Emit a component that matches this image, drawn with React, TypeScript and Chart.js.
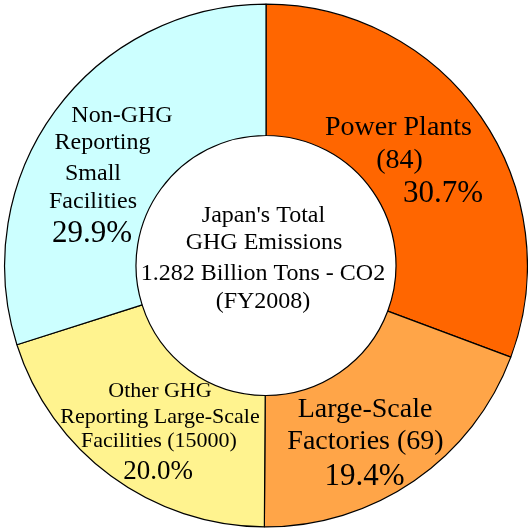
import React, { useEffect, useRef } from "react";
import { Chart, registerables } from "chart.js";

Chart.register(...registerables);

const categories = [
  "Power Plants",
  "Large-Scale Factories",
  "Other GHG Reporting Large-Scale Facilities",
  "Non-GHG Reporting Small Facilities",
];
const shares = [30.7, 19.4, 20.0, 29.9];
const counts = ["84", "69", "15000", ""];
const colors = ["#FF6600", "#FFA548", "#FFF38F", "#CCFFFF"];

const centerLines = [
  "Japan's Total",
  "GHG Emissions",
  "1.282 Billion Tons - CO2",
  "(FY2008)",
];

// text lines for each slice (last line is the share)
const sliceLines: string[][] = [
  ["Power Plants", `(${counts[0]})`],
  ["Large-Scale", `Factories (${counts[1]})`],
  ["Other GHG", "Reporting Large-Scale", `Facilities (${counts[2]})`],
  ["Non-GHG", "Reporting", "Small", "Facilities"],
];

// layout: offsets from the doughnut centre [dx, dy(baseline), fontSize]
const sliceLayout: number[][][] = [
  [[132.5, -130.5, 28], [133.5, -97.5, 28], [177, -64, 31]],
  [[99, 151.5, 28], [99.5, 183.5, 28], [98.5, 219.5, 31]],
  [[-106, 131.5, 22], [-106, 157.5, 22], [-107, 181.5, 22], [-108, 213.5, 27]],
  [[-144, -144, 24], [-163.5, -116.5, 24], [-173, -85.5, 24], [-173, -57.5, 24], [-174, -24, 31]],
];
const centerLayout: number[][] = [
  [-2.5, -44, 24],
  [-2, -16.5, 24],
  [-3, 14.5, 24],
  [-3, 42, 24],
];

const FONT = '"Liberation Serif", "Times New Roman", serif';

const labelPlugin = {
  id: "sliceLabels",
  afterDatasetsDraw(chart: any) {
    const meta = chart.getDatasetMeta(0);
    const arc = meta.data[0];
    if (!arc) return;
    const cx = arc.x;
    const cy = arc.y;
    const ctx = chart.ctx;
    ctx.save();
    ctx.fillStyle = "#000";
    ctx.textAlign = "center";
    ctx.textBaseline = "alphabetic";
    const put = (t: string, l: number[]) => {
      ctx.font = `${l[2]}px ${FONT}`;
      ctx.fillText(t, cx + l[0], cy + l[1]);
    };
    sliceLines.forEach((lines, i) => {
      const all = [...lines, shares[i].toFixed(1) + "%"];
      all.forEach((t, j) => put(t, sliceLayout[i][j]));
    });
    centerLines.forEach((t, j) => put(t, centerLayout[j]));
    ctx.restore();
  },
};

export default function App() {
  const ref = useRef<HTMLCanvasElement | null>(null);
  useEffect(() => {
    if (!ref.current) return;
    const chart = new Chart(ref.current, {
      type: "doughnut",
      data: {
        labels: categories,
        datasets: [
          {
            data: shares,
            backgroundColor: colors,
            borderColor: "#000000",
            borderWidth: 1.2,
          },
        ],
      },
      options: {
        responsive: false,
        animation: false,
        events: [],
        cutout: 130,
        layout: { padding: { left: 4, right: 0, top: 3, bottom: 1 } },
        plugins: {
          legend: { display: false },
          tooltip: { enabled: false },
        },
      },
      plugins: [labelPlugin],
    });
    return () => chart.destroy();
  }, []);
  return (
    <div style={{ position: "fixed", left: 0, top: 0, width: 528, height: 529, background: "#fff" }}>
      <canvas ref={ref} width={528} height={529} style={{ display: "block" }} />
    </div>
  );
}
